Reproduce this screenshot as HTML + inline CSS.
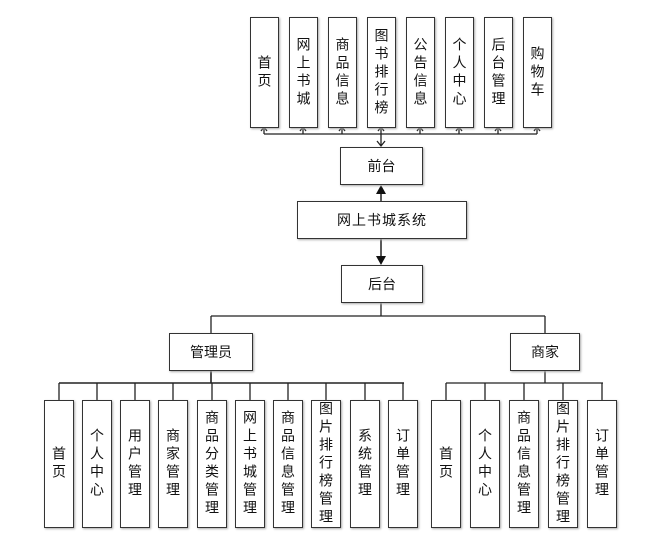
<!DOCTYPE html>
<html><head><meta charset="utf-8"><style>
body{margin:0;width:664px;height:537px;background:#fff;position:relative;overflow:hidden;font-family:"Liberation Sans","Noto Sans CJK SC",sans-serif;color:#111}
.b{position:absolute;border:1.5px solid #333;box-sizing:border-box;background:#fff;display:flex;align-items:center;justify-content:center;font-size:14px;box-shadow:1px 1px 2px #aaa}
.v{writing-mode:vertical-rl;text-orientation:upright;line-height:1;letter-spacing:4px;font-size:14px}
svg{position:absolute;left:0;top:0}
</style></head><body>
<svg width="664" height="537" stroke="#222" fill="none" stroke-width="1.3">
<path d="M264 134H537"/>
<path d="M264 134V128M303 134V128M342 134V128M381 134V128M420 134V128M459 134V128M498 134V128M537 134V128"/>
<path d="M261 131L264 127L267 131M300 131L303 127L306 131M339 131L342 127L345 131M378 131L381 127L384 131M417 131L420 127L423 131M456 131L459 127L462 131M495 131L498 127L501 131M534 131L537 127L540 131"/>
<path d="M381 134V146M377 141L381 146L385 141"/>
<path d="M381 201V193" stroke-width="1.5"/>
<polygon points="376,194 386,194 381,185" fill="#111" stroke="none"/>
<path d="M381 238V256" stroke-width="1.5"/>
<polygon points="376,256 386,256 381,265" fill="#111" stroke="none"/>
<path d="M381 302V316M211 316H545M211 316V333M545 316V333"/>
<path d="M211 370V383M59 383H404" stroke-width="1.6"/>
<path d="M59 383V400M97 383V400M135 383V400M173 383V400M212 383V400M250 383V400M288 383V400M326 383V400M365 383V400M403 383V400"/>
<path d="M545 370V383M446 383H603"/>
<path d="M446 383V400M485 383V400M524 383V400M563 383V400M602 383V400"/>
</svg>
<div class="b" style="left:250px;top:17px;width:29px;height:111px"><span class="v">首页</span></div>
<div class="b" style="left:289px;top:17px;width:29px;height:111px"><span class="v">网上书城</span></div>
<div class="b" style="left:328px;top:17px;width:29px;height:111px"><span class="v">商品信息</span></div>
<div class="b" style="left:367px;top:17px;width:29px;height:111px"><span class="v">图书排行榜</span></div>
<div class="b" style="left:406px;top:17px;width:29px;height:111px"><span class="v">公告信息</span></div>
<div class="b" style="left:445px;top:17px;width:29px;height:111px"><span class="v">个人中心</span></div>
<div class="b" style="left:484px;top:17px;width:29px;height:111px"><span class="v">后台管理</span></div>
<div class="b" style="left:523px;top:17px;width:29px;height:111px"><span class="v">购物车</span></div>
<div class="b" style="left:340px;top:147px;width:83px;height:38px">前台</div>
<div class="b" style="left:297px;top:201px;width:170px;height:38px;letter-spacing:1px">网上书城系统</div>
<div class="b" style="left:341px;top:265px;width:82px;height:38px">后台</div>
<div class="b" style="left:169px;top:333px;width:84px;height:38px">管理员</div>
<div class="b" style="left:510px;top:333px;width:70px;height:38px">商家</div>
<div class="b" style="left:44px;top:400px;width:30px;height:128px"><span class="v">首页</span></div>
<div class="b" style="left:82px;top:400px;width:30px;height:128px"><span class="v">个人中心</span></div>
<div class="b" style="left:120px;top:400px;width:30px;height:128px"><span class="v">用户管理</span></div>
<div class="b" style="left:158px;top:400px;width:30px;height:128px"><span class="v">商家管理</span></div>
<div class="b" style="left:197px;top:400px;width:30px;height:128px"><span class="v">商品分类管理</span></div>
<div class="b" style="left:235px;top:400px;width:30px;height:128px"><span class="v">网上书城管理</span></div>
<div class="b" style="left:273px;top:400px;width:30px;height:128px"><span class="v">商品信息管理</span></div>
<div class="b" style="left:311px;top:400px;width:30px;height:128px"><span class="v">图片排行榜管理</span></div>
<div class="b" style="left:350px;top:400px;width:30px;height:128px"><span class="v">系统管理</span></div>
<div class="b" style="left:388px;top:400px;width:30px;height:128px"><span class="v">订单管理</span></div>
<div class="b" style="left:431px;top:400px;width:30px;height:128px"><span class="v">首页</span></div>
<div class="b" style="left:470px;top:400px;width:30px;height:128px"><span class="v">个人中心</span></div>
<div class="b" style="left:509px;top:400px;width:30px;height:128px"><span class="v">商品信息管理</span></div>
<div class="b" style="left:548px;top:400px;width:30px;height:128px"><span class="v">图片排行榜管理</span></div>
<div class="b" style="left:587px;top:400px;width:30px;height:128px"><span class="v">订单管理</span></div>
</body></html>
